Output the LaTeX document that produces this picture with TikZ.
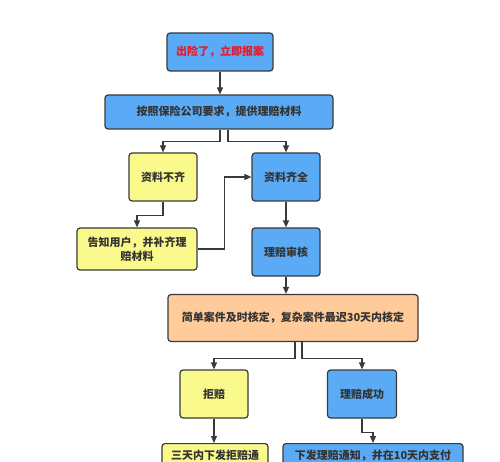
\documentclass[tikz,border=0pt]{standalone}
\usepackage{fontspec}
\setmainfont{Noto Sans CJK SC}
\usetikzlibrary{arrows.meta}
\definecolor{boxblue}{HTML}{5BAAF5}
\definecolor{boxyellow}{HTML}{F9F98C}
\definecolor{boxorange}{HTML}{FFCB9A}
\definecolor{linegray}{HTML}{3A3A3A}
\definecolor{alertred}{HTML}{E8192C}
\tikzset{
  box/.style={draw=linegray,line width=1.2pt,rounded corners=3pt,
    font=\fontsize{11}{14}\selectfont\bfseries,text=black!80,
    align=center,inner sep=0pt},
  bluebox/.style={box,fill=boxblue},
  yellowbox/.style={box,fill=boxyellow},
  orangebox/.style={box,fill=boxorange},
  arr/.style={draw=linegray,line width=1.2pt,-{Triangle[length=7pt,width=6pt]}}
}
\begin{document}
\begin{tikzpicture}[x=1pt,y=-1pt]
\clip (0,0) rectangle (500,462);
\fill[white] (0,0) rectangle (500,462);

% top of the chart
\node[bluebox,text=alertred,minimum width=106pt,minimum height=38pt] (report) at (220,52) {出险了，立即报案};
\node[bluebox,minimum width=228pt,minimum height=34pt] (submit) at (219,112) {按照保险公司要求，提供理赔材料};

% check of the papers
\node[yellowbox,minimum width=68pt,minimum height=48pt] (lack) at (163,177) {资料不齐};
\node[bluebox,minimum width=68pt,minimum height=48pt] (full) at (286,177) {资料齐全};
\node[yellowbox,minimum width=120pt,minimum height=42pt] (notify) at (137,249) {告知用户，并补齐理\\赔材料};
\node[bluebox,minimum width=68pt,minimum height=48pt] (audit) at (286,252) {理赔审核};

% decision
\node[orangebox,minimum width=250pt,minimum height=47pt] (decide) at (293,318) {简单案件及时核定，复杂案件最迟30天内核定};
\node[yellowbox,minimum width=68pt,minimum height=48pt] (reject) at (214,394) {拒赔};
\node[bluebox,minimum width=69pt,minimum height=48pt] (success) at (362,394) {理赔成功};

% bottom row, cut by the frame
\node[yellowbox,anchor=north,minimum width=106pt,inner ysep=6pt,text depth=30pt] (rejectnote) at (215,443) {三天内下发拒赔通};
\node[bluebox,anchor=north,minimum width=180pt,inner ysep=6pt,text depth=30pt] (pay) at (373,443) {下发理赔通知，并在10天内支付};

% connectors
\draw[arr] (report.south) -- (submit.north -| report.south);
\draw[arr] ([xshift=1pt]submit.south) -- ++(0,12) -| (lack.north);
\draw[arr] ([xshift=9pt]submit.south) -- ++(0,12) -| (full.north);
\draw[arr] (lack.south) -- ++(0,14) -| (notify.north);
\draw[arr] (notify.east) -- ++(27,0) |- (full.west);
\draw[arr] (full.south) -- (audit.north);
\draw[arr] (audit.south) -- (audit.south |- decide.north);
\draw[arr] ([xshift=2pt]decide.south) -- ++(0,16) -| (reject.north);
\draw[arr] ([xshift=9pt]decide.south) -- ++(0,16) -| (success.north);
\draw[arr] (reject.south) -- (reject.south |- rejectnote.north);
\draw[arr] (success.south) -- ++(0,14) -| (pay.north);
\end{tikzpicture}
\end{document}
